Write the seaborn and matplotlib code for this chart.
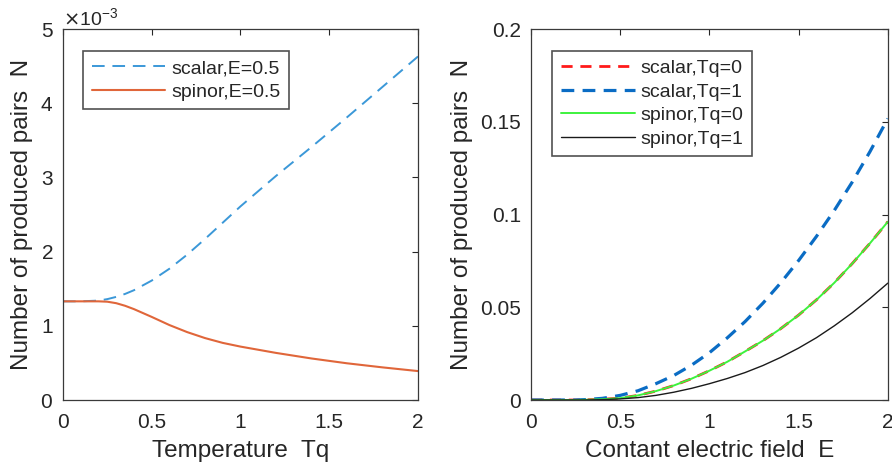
import numpy as np
import pandas as pd
import matplotlib
matplotlib.use("Agg")
import matplotlib.pyplot as plt
import seaborn as sns
from matplotlib.ticker import ScalarFormatter

# left panel: pairs vs temperature at E=0.5 (values in units of 1e-3)
tq = [0.0, 0.1, 0.2, 0.25, 0.3, 0.35, 0.4, 0.5, 0.6, 0.7, 0.8, 0.9,
      1.0, 1.2, 1.4, 1.6, 1.8, 2.0]
scalar_e05 = [1.33, 1.33, 1.34, 1.36, 1.39, 1.43, 1.48, 1.61, 1.77, 1.96, 2.17, 2.39,
              2.61, 3.02, 3.41, 3.81, 4.22, 4.63]
spinor_e05 = [1.33, 1.33, 1.33, 1.325, 1.305, 1.27, 1.225, 1.12, 1.01, 0.915, 0.835, 0.77,
              0.72, 0.635, 0.56, 0.495, 0.44, 0.39]

# right panel: pairs vs constant electric field
efield = [0.0, 0.25, 0.3, 0.4, 0.5, 0.6, 0.7, 0.8, 0.9, 1.0, 1.1, 1.2, 1.3, 1.4,
          1.5, 1.6, 1.7, 1.8, 1.9, 2.0]
scalar_t0 = [0.0, 0.0, 0.0001, 0.0004, 0.0010, 0.0025, 0.0048, 0.0078, 0.0115, 0.0158,
             0.0206, 0.0262, 0.0320, 0.0385, 0.0458, 0.0540, 0.0632, 0.0735, 0.0845, 0.0961]
scalar_t1 = [0.0, 0.0, 0.0002, 0.0009, 0.0025, 0.0050, 0.0088, 0.0132, 0.0188, 0.0255,
             0.0335, 0.0423, 0.0522, 0.0632, 0.0752, 0.0882, 0.1022, 0.1174, 0.1339, 0.1517]
spinor_t0 = scalar_t0
spinor_t1 = [0.0, 0.0, 0.0, 0.0002, 0.0006, 0.0013, 0.0025, 0.0042, 0.0063, 0.0088,
             0.0116, 0.0148, 0.0186, 0.0230, 0.0280, 0.0336, 0.0400, 0.0470, 0.0547, 0.0630]

x_ticks = [0, 0.5, 1, 1.5, 2]
x_ticklabels = ["0", "0.5", "1", "1.5", "2"]
left_yticks = [0, 1, 2, 3, 4, 5]
right_yticks = [0, 0.05, 0.1, 0.15, 0.2]
right_yticklabels = ["0", "0.05", "0.1", "0.15", "0.2"]

sns.set_style("white")
plt.rcParams["font.family"] = ["Liberation Sans", "DejaVu Sans"]
plt.rcParams["axes.unicode_minus"] = False

ink = "#262626"
fig = plt.figure(figsize=(8.92, 4.72), dpi=100)
ax1 = fig.add_axes([0.0706, 0.1525, 0.398, 0.786])
ax2 = fig.add_axes([0.5953, 0.1525, 0.400, 0.786])

left_df = pd.DataFrame({"Tq": tq,
                        "scalar": np.array(scalar_e05) * 1e-3,
                        "spinor": np.array(spinor_e05) * 1e-3})

sns.lineplot(data=left_df, x="Tq", y="scalar", ax=ax1, color="#3b98d8",
             lw=1.4, label="scalar,E=0.5")
ax1.lines[-1].set_dashes((6.5, 4))
sns.lineplot(data=left_df, x="Tq", y="spinor", ax=ax1, color="#e0663a",
             lw=1.5, label="spinor,E=0.5")

right_df = pd.DataFrame({"E": efield, "s0": scalar_t0, "s1": scalar_t1,
                         "f0": spinor_t0, "f1": spinor_t1})
sns.lineplot(data=right_df, x="E", y="s0", ax=ax2, color="#ff1a1a", lw=2.0,
             label="scalar,Tq=0")
ax2.lines[-1].set_dashes((4, 2.8))
sns.lineplot(data=right_df, x="E", y="s1", ax=ax2, color="#0a6cc4", lw=2.3,
             label="scalar,Tq=1")
ax2.lines[-1].set_dashes((4, 2.6))
sns.lineplot(data=right_df, x="E", y="f0", ax=ax2, color="#3df23d", lw=1.4,
             label="spinor,Tq=0")
sns.lineplot(data=right_df, x="E", y="f1", ax=ax2, color="#1a1a1a", lw=1.0,
             label="spinor,Tq=1")

for ax in (ax1, ax2):
    ax.set_xlim(0, 2)
    ax.set_xticks(x_ticks)
    ax.set_xticklabels(x_ticklabels)
    ax.tick_params(direction="in", top=True, right=True, length=4, width=0.8,
                   labelsize=15, colors=ink, pad=7)
    ax.tick_params(axis="x", pad=9)
    for sp in ax.spines.values():
        sp.set_color("#3a3a3a")
        sp.set_linewidth(0.9)

ax1.set_ylim(0, 5e-3)
ax1.set_yticks(np.array(left_yticks) * 1e-3)
fmt = ScalarFormatter(useMathText=True)
fmt.set_powerlimits((-3, -3))
ax1.yaxis.set_major_formatter(fmt)
ax1.yaxis.get_offset_text().set_fontsize(14)
ax1.yaxis.get_offset_text().set_color(ink)
ax1.set_xlabel("Temperature  Tq", fontsize=17.5, color=ink, labelpad=6)
ax1.set_ylabel("Number of produced pairs  N", fontsize=17.5, color=ink, labelpad=5)

ax2.set_ylim(0, 0.2)
ax2.set_yticks(right_yticks)
ax2.set_yticklabels(right_yticklabels)
ax2.set_xlabel("Contant electric field  E", fontsize=17.5, color=ink, labelpad=6)
ax2.set_ylabel("Number of produced pairs  N", fontsize=17.5, color=ink, labelpad=5)

for ax, loc in ((ax1, (0.056, 0.941)), (ax2, (0.059, 0.941))):
    leg = ax.legend(loc="upper left", bbox_to_anchor=loc, borderaxespad=0,
                    fontsize=14, frameon=True, fancybox=False, handlelength=3.8,
                    handletextpad=0.3, borderpad=0.45, labelspacing=0.3)
    leg.get_frame().set_edgecolor(ink)
    leg.get_frame().set_linewidth(1.2)

fig.savefig("out.png", dpi=100)
